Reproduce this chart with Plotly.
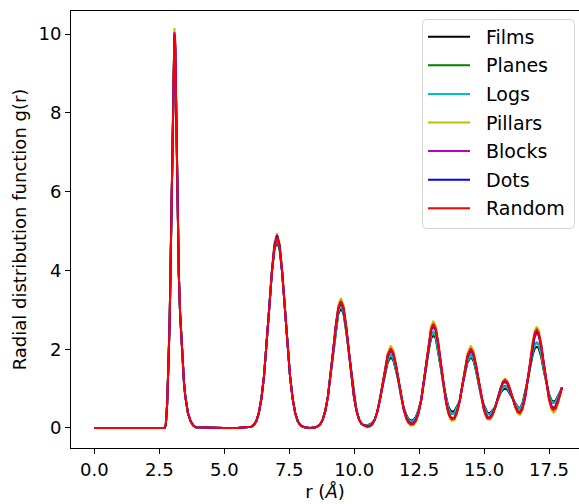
import plotly.graph_objects as go

# Radial distance grid (Angstrom)
r_angstrom = [
    0.0, 0.5, 1.0, 1.5, 2.0, 2.5, 2.7,
    2.75, 2.8, 2.85, 2.9, 2.95, 3.0, 3.05, 3.08, 3.11, 3.15, 3.2, 3.25, 3.3, 3.35, 3.4, 3.45, 3.5, 3.55, 3.6, 3.7, 3.8, 3.9,
    4.5, 5.0, 5.5, 5.93,
    6.03, 6.13, 6.23, 6.33, 6.43, 6.53, 6.63, 6.73, 6.83, 6.93, 7.03, 7.13, 7.23, 7.33, 7.43, 7.53, 7.63, 7.73, 7.83, 7.93, 8.03, 8.13,
    8.3, 8.49,
    8.59, 8.69, 8.79, 8.89, 8.99, 9.09, 9.19, 9.29, 9.39, 9.49, 9.59, 9.69, 9.79, 9.89, 9.99, 10.09, 10.19, 10.29, 10.39,
    10.49, 10.59, 10.69, 10.79, 10.89, 10.99, 11.09, 11.19, 11.29, 11.41, 11.51, 11.61, 11.71, 11.81, 11.91, 12.01, 12.09,
    12.18, 12.28, 12.38, 12.48, 12.58, 12.68, 12.78, 12.88, 12.96, 13.05, 13.14, 13.24, 13.34, 13.44, 13.54, 13.62, 13.69,
    13.76, 13.86, 13.96, 14.06, 14.16, 14.26, 14.36, 14.49, 14.59, 14.69, 14.79, 14.89, 14.99, 15.06,
    15.13, 15.23, 15.33, 15.43, 15.53, 15.63, 15.72, 15.81, 15.9, 16.0, 16.1, 16.2, 16.3,
    16.38, 16.48, 16.58, 16.68, 16.78, 16.88, 16.96, 17.03, 17.1, 17.2, 17.3, 17.4, 17.5, 17.6, 17.67, 17.75, 17.85, 17.93, 18.0,
]

g_films = [
    0, 0, 0, 0, 0, 0, 0,
    0.08, 0.6, 1.6, 2.8, 4.8, 7.2, 9.18, 9.88, 9.63, 7.9, 5.3, 3.9, 2.9, 2.2, 1.6, 1.15, 0.8, 0.55, 0.38, 0.18, 0.07, 0.02,
    0, 0, 0, 0.01,
    0.03, 0.07, 0.17, 0.38, 0.75, 1.32, 2.11, 3.04, 3.94, 4.52, 4.75, 4.52, 3.94, 3.04, 2.11, 1.32, 0.75, 0.38, 0.17, 0.07, 0.03, 0.01,
    0, 0.01,
    0.04, 0.09, 0.21, 0.44, 0.80, 1.32, 1.95, 2.46, 2.90, 3.05, 2.90, 2.46, 1.95, 1.32, 0.80, 0.44, 0.21, 0.10, 0.06,
    0.08, 0.09, 0.13, 0.21, 0.41, 0.71, 1.10, 1.37, 1.67, 1.81, 1.71, 1.45, 1.18, 0.78, 0.51, 0.33, 0.23,
    0.19, 0.20, 0.29, 0.47, 0.71, 1.17, 1.60, 2.01, 2.27, 2.36, 2.27, 1.93, 1.50, 1.07, 0.77, 0.56, 0.46,
    0.41, 0.43, 0.56, 0.68, 1.06, 1.38, 1.66, 1.81, 1.71, 1.45, 1.12, 0.79, 0.59, 0.48,
    0.39, 0.38, 0.46, 0.53, 0.72, 0.88, 0.97, 1.00, 0.97, 0.85, 0.76, 0.63, 0.53,
    0.50, 0.63, 0.89, 1.22, 1.55, 1.88, 2.03, 2.06, 2.03, 1.80, 1.44, 1.13, 0.86, 0.70, 0.67, 0.69, 0.80, 0.92, 1.03,
]

g_planes = [
    0, 0, 0, 0, 0, 0, 0,
    0.08, 0.6, 1.6, 2.8, 4.8, 7.2, 9.24, 9.94, 9.69, 7.9, 5.3, 3.9, 2.9, 2.2, 1.6, 1.15, 0.8, 0.55, 0.38, 0.18, 0.07, 0.02,
    0, 0, 0, 0.01,
    0.03, 0.07, 0.17, 0.38, 0.75, 1.32, 2.11, 3.04, 3.94, 4.58, 4.82, 4.58, 3.94, 3.04, 2.11, 1.32, 0.75, 0.38, 0.17, 0.07, 0.03, 0.01,
    0, 0.01,
    0.04, 0.09, 0.21, 0.44, 0.80, 1.32, 1.95, 2.52, 2.96, 3.12, 2.96, 2.52, 1.95, 1.32, 0.80, 0.44, 0.21, 0.10, 0.06,
    0.06, 0.07, 0.11, 0.21, 0.41, 0.71, 1.10, 1.42, 1.73, 1.88, 1.77, 1.50, 1.18, 0.78, 0.48, 0.30, 0.20,
    0.16, 0.17, 0.26, 0.44, 0.71, 1.17, 1.65, 2.08, 2.34, 2.44, 2.34, 1.99, 1.54, 1.07, 0.73, 0.51, 0.40,
    0.35, 0.37, 0.51, 0.68, 1.06, 1.42, 1.71, 1.87, 1.77, 1.50, 1.15, 0.79, 0.56, 0.44,
    0.35, 0.34, 0.43, 0.53, 0.75, 0.92, 1.03, 1.07, 1.03, 0.89, 0.76, 0.60, 0.50,
    0.48, 0.60, 0.86, 1.22, 1.60, 1.96, 2.13, 2.17, 2.13, 1.88, 1.50, 1.13, 0.83, 0.66, 0.63, 0.65, 0.77, 0.90, 1.03,
]

g_logs = [
    0, 0, 0, 0, 0, 0, 0,
    0.08, 0.6, 1.6, 2.8, 4.8, 7.2, 9.22, 9.92, 9.67, 7.9, 5.3, 3.9, 2.9, 2.2, 1.6, 1.15, 0.8, 0.55, 0.38, 0.18, 0.07, 0.02,
    0, 0, 0, 0.01,
    0.03, 0.07, 0.17, 0.38, 0.75, 1.32, 2.11, 3.04, 3.94, 4.56, 4.80, 4.56, 3.94, 3.04, 2.11, 1.32, 0.75, 0.38, 0.17, 0.07, 0.03, 0.01,
    0, 0.01,
    0.04, 0.09, 0.21, 0.44, 0.80, 1.32, 1.95, 2.50, 2.94, 3.10, 2.94, 2.50, 1.95, 1.32, 0.80, 0.44, 0.21, 0.10, 0.06,
    0.07, 0.08, 0.12, 0.21, 0.41, 0.71, 1.10, 1.40, 1.71, 1.86, 1.75, 1.48, 1.18, 0.78, 0.49, 0.31, 0.21,
    0.17, 0.18, 0.27, 0.45, 0.71, 1.17, 1.63, 2.06, 2.32, 2.42, 2.32, 1.97, 1.52, 1.07, 0.74, 0.52, 0.41,
    0.36, 0.38, 0.52, 0.68, 1.06, 1.40, 1.69, 1.85, 1.75, 1.48, 1.13, 0.79, 0.57, 0.45,
    0.36, 0.35, 0.44, 0.53, 0.74, 0.91, 1.01, 1.05, 1.01, 0.88, 0.76, 0.61, 0.51,
    0.49, 0.61, 0.87, 1.22, 1.58, 1.94, 2.11, 2.15, 2.11, 1.86, 1.48, 1.13, 0.84, 0.67, 0.64, 0.66, 0.78, 0.91, 1.03,
]

g_pillars = [
    0, 0, 0, 0, 0, 0, 0,
    0.08, 0.6, 1.6, 2.8, 4.8, 7.2, 9.45, 10.15, 9.9, 7.9, 5.3, 3.9, 2.9, 2.2, 1.6, 1.15, 0.8, 0.55, 0.38, 0.18, 0.07, 0.02,
    0, 0, 0, 0.01,
    0.03, 0.07, 0.17, 0.38, 0.75, 1.32, 2.11, 3.04, 4.00, 4.70, 4.95, 4.70, 4.00, 3.04, 2.11, 1.32, 0.75, 0.38, 0.17, 0.07, 0.03, 0.01,
    0, 0.01,
    0.04, 0.09, 0.21, 0.44, 0.80, 1.32, 1.95, 2.63, 3.12, 3.30, 3.12, 2.63, 1.95, 1.32, 0.80, 0.44, 0.21, 0.10, 0.06,
    0.02, 0.03, 0.09, 0.21, 0.41, 0.71, 1.10, 1.55, 1.91, 2.09, 1.96, 1.63, 1.18, 0.78, 0.46, 0.22, 0.11,
    0.06, 0.07, 0.16, 0.38, 0.71, 1.17, 1.71, 2.28, 2.59, 2.72, 2.59, 2.19, 1.60, 1.07, 0.64, 0.37, 0.24,
    0.18, 0.20, 0.37, 0.68, 1.06, 1.47, 1.89, 2.09, 1.96, 1.63, 1.18, 0.79, 0.45, 0.30,
    0.22, 0.21, 0.31, 0.53, 0.77, 1.03, 1.19, 1.25, 1.19, 1.01, 0.76, 0.51, 0.36,
    0.33, 0.45, 0.78, 1.22, 1.72, 2.24, 2.49, 2.57, 2.49, 2.16, 1.61, 1.13, 0.70, 0.45, 0.39, 0.43, 0.62, 0.84, 1.03,
]

g_blocks = [
    0, 0, 0, 0, 0, 0, 0,
    0.08, 0.6, 1.6, 2.8, 4.8, 7.2, 9.35, 10.05, 9.8, 7.9, 5.3, 3.9, 2.9, 2.2, 1.6, 1.15, 0.8, 0.55, 0.38, 0.18, 0.07, 0.02,
    0, 0, 0, 0.01,
    0.03, 0.07, 0.17, 0.38, 0.75, 1.32, 2.11, 3.04, 3.94, 4.64, 4.90, 4.64, 3.94, 3.04, 2.11, 1.32, 0.75, 0.38, 0.17, 0.07, 0.03, 0.01,
    0, 0.01,
    0.04, 0.09, 0.21, 0.44, 0.80, 1.32, 1.95, 2.57, 3.03, 3.20, 3.03, 2.57, 1.95, 1.32, 0.80, 0.44, 0.21, 0.10, 0.06,
    0.04, 0.05, 0.09, 0.21, 0.41, 0.71, 1.10, 1.49, 1.82, 1.98, 1.87, 1.57, 1.18, 0.78, 0.46, 0.26, 0.16,
    0.12, 0.13, 0.22, 0.41, 0.71, 1.17, 1.71, 2.18, 2.47, 2.58, 2.47, 2.09, 1.60, 1.07, 0.66, 0.43, 0.31,
    0.25, 0.27, 0.43, 0.68, 1.06, 1.47, 1.80, 1.98, 1.87, 1.57, 1.18, 0.79, 0.51, 0.37,
    0.28, 0.27, 0.37, 0.53, 0.77, 0.98, 1.12, 1.17, 1.12, 0.96, 0.76, 0.56, 0.43,
    0.40, 0.52, 0.80, 1.22, 1.72, 2.12, 2.34, 2.40, 2.34, 2.04, 1.61, 1.13, 0.77, 0.56, 0.52, 0.56, 0.71, 0.88, 1.03,
]

g_dots = [
    0, 0, 0, 0, 0, 0, 0,
    0.08, 0.6, 1.6, 2.8, 4.8, 7.2, 9.28, 9.98, 9.73, 7.9, 5.3, 3.9, 2.9, 2.2, 1.6, 1.15, 0.8, 0.55, 0.38, 0.18, 0.07, 0.02,
    0, 0, 0, 0.01,
    0.03, 0.07, 0.17, 0.38, 0.75, 1.32, 2.11, 3.04, 3.94, 4.62, 4.88, 4.62, 3.94, 3.04, 2.11, 1.32, 0.75, 0.38, 0.17, 0.07, 0.03, 0.01,
    0, 0.01,
    0.04, 0.09, 0.21, 0.44, 0.80, 1.32, 1.95, 2.57, 3.04, 3.21, 3.04, 2.57, 1.95, 1.32, 0.80, 0.44, 0.21, 0.10, 0.06,
    0.04, 0.05, 0.09, 0.21, 0.41, 0.71, 1.10, 1.50, 1.83, 2.00, 1.88, 1.58, 1.18, 0.78, 0.46, 0.25, 0.15,
    0.10, 0.11, 0.20, 0.38, 0.71, 1.17, 1.71, 2.21, 2.50, 2.62, 2.50, 2.12, 1.60, 1.07, 0.65, 0.41, 0.29,
    0.23, 0.25, 0.41, 0.68, 1.06, 1.47, 1.82, 2.00, 1.88, 1.58, 1.18, 0.79, 0.49, 0.35,
    0.26, 0.26, 0.35, 0.53, 0.77, 1.00, 1.15, 1.20, 1.15, 0.98, 0.76, 0.55, 0.41,
    0.39, 0.51, 0.78, 1.22, 1.72, 2.17, 2.40, 2.47, 2.40, 2.09, 1.61, 1.13, 0.75, 0.52, 0.47, 0.51, 0.68, 0.86, 1.03,
]

g_random = [
    0, 0, 0, 0, 0, 0, 0,
    0.08, 0.6, 1.6, 2.8, 4.8, 7.2, 9.3, 10.0, 9.75, 7.9, 5.3, 3.9, 2.9, 2.2, 1.6, 1.15, 0.8, 0.55, 0.38, 0.18, 0.07, 0.02,
    0, 0, 0, 0.01,
    0.03, 0.07, 0.17, 0.38, 0.75, 1.32, 2.11, 3.04, 3.94, 4.60, 4.85, 4.60, 3.94, 3.04, 2.11, 1.32, 0.75, 0.38, 0.17, 0.07, 0.03, 0.01,
    0, 0.01,
    0.04, 0.09, 0.21, 0.44, 0.80, 1.32, 1.95, 2.58, 3.05, 3.22, 3.05, 2.58, 1.95, 1.32, 0.80, 0.44, 0.21, 0.10, 0.06,
    0.03, 0.04, 0.09, 0.21, 0.41, 0.71, 1.10, 1.51, 1.85, 2.02, 1.90, 1.59, 1.18, 0.78, 0.46, 0.24, 0.14,
    0.09, 0.10, 0.19, 0.38, 0.71, 1.17, 1.71, 2.22, 2.52, 2.64, 2.52, 2.13, 1.60, 1.07, 0.64, 0.40, 0.28,
    0.22, 0.24, 0.40, 0.68, 1.06, 1.47, 1.83, 2.02, 1.90, 1.59, 1.18, 0.79, 0.48, 0.34,
    0.25, 0.25, 0.34, 0.53, 0.77, 1.01, 1.16, 1.22, 1.16, 0.99, 0.76, 0.54, 0.40,
    0.38, 0.50, 0.78, 1.22, 1.72, 2.18, 2.42, 2.49, 2.42, 2.10, 1.61, 1.13, 0.74, 0.51, 0.46, 0.50, 0.67, 0.86, 1.03,
]

series_names = ["Films", "Planes", "Logs", "Pillars", "Blocks", "Dots", "Random"]
series_values = [g_films, g_planes, g_logs, g_pillars, g_blocks, g_dots, g_random]
series_colors = ["#000000", "#008000", "#00bfbf", "#bfbf00", "#bf00bf", "#0000ff", "#ff0000"]

x_ticks = [0.0, 2.5, 5.0, 7.5, 10.0, 12.5, 15.0, 17.5]
y_ticks = [0, 2, 4, 6, 8, 10]

for vals in series_values:
    assert len(vals) == len(r_angstrom), (len(vals), len(r_angstrom))

FONT = "DejaVu Sans, Arial, sans-serif"
W, H = 579, 504
M_L, M_R, M_T, M_B = 71, 0, 11, 56
PW, PH = W - M_L - M_R, H - M_T - M_B


def px(xp):
    """Pixel column -> paper x."""
    return (xp - M_L) / PW


def py(yp):
    """Pixel row -> paper y."""
    return (H - M_B - yp) / PH


fig = go.Figure()
for name, vals, color in zip(series_names, series_values, series_colors):
    fig.add_trace(go.Scatter(
        x=r_angstrom, y=vals, mode="lines", name=name,
        line=dict(color=color, width=2),
        showlegend=False,
    ))

# Legend box (rounded frame, upper right), entries drawn as line samples + labels
x0, x1, y0, y1, rad = 422.5, 574.5, 19.5, 228.5, 4
frame = (
    f"M {px(x0 + rad)},{py(y0)} L {px(x1 - rad)},{py(y0)} "
    f"Q {px(x1)},{py(y0)} {px(x1)},{py(y0 + rad)} "
    f"L {px(x1)},{py(y1 - rad)} Q {px(x1)},{py(y1)} {px(x1 - rad)},{py(y1)} "
    f"L {px(x0 + rad)},{py(y1)} Q {px(x0)},{py(y1)} {px(x0)},{py(y1 - rad)} "
    f"L {px(x0)},{py(y0 + rad)} Q {px(x0)},{py(y0)} {px(x0 + rad)},{py(y0)} Z"
)
shapes = [dict(type="path", xref="paper", yref="paper", path=frame,
               line=dict(color="#d6d6d6", width=1),
               fillcolor="rgba(255,255,255,0.8)", layer="above")]
annotations = []
row0, row_step = 36.7, 28.6
for i, (name, color) in enumerate(zip(series_names, series_colors)):
    yr = row0 + i * row_step
    shapes.append(dict(type="line", xref="paper", yref="paper",
                       x0=px(428), x1=px(470), y0=py(yr), y1=py(yr),
                       line=dict(color=color, width=2), layer="above"))
    annotations.append(dict(xref="paper", yref="paper", x=px(484), y=py(yr),
                            xanchor="left", yanchor="middle", showarrow=False,
                            text=name, font=dict(family=FONT, size=19, color="black")))

fig.update_layout(
    width=W, height=H,
    margin=dict(l=M_L, r=M_R, t=M_T, b=M_B),
    plot_bgcolor="white", paper_bgcolor="white",
    font=dict(family=FONT, size=18, color="black"),
    showlegend=False,
    shapes=shapes,
    annotations=annotations,
    xaxis=dict(
        range=[-0.9, 18.654],
        tickmode="array", tickvals=x_ticks,
        ticktext=[f"{v:.1f}" for v in x_ticks],
        showgrid=False, zeroline=False,
        showline=True, linecolor="black", linewidth=1, mirror=True,
        ticks="outside", ticklen=5, tickwidth=1, tickcolor="black",
        title=dict(text="r (<i>Å</i>)", font=dict(size=18), standoff=6),
    ),
    yaxis=dict(
        range=[-0.508, 10.584],
        tickmode="array", tickvals=y_ticks,
        ticktext=[str(v) for v in y_ticks],
        showgrid=False, zeroline=False,
        showline=True, linecolor="black", linewidth=1,
        ticks="outside", ticklen=5, tickwidth=1, tickcolor="black",
        title=dict(text="Radial distribution function g(r)", font=dict(size=18), standoff=7),
    ),
)

fig.write_html("out.html")
